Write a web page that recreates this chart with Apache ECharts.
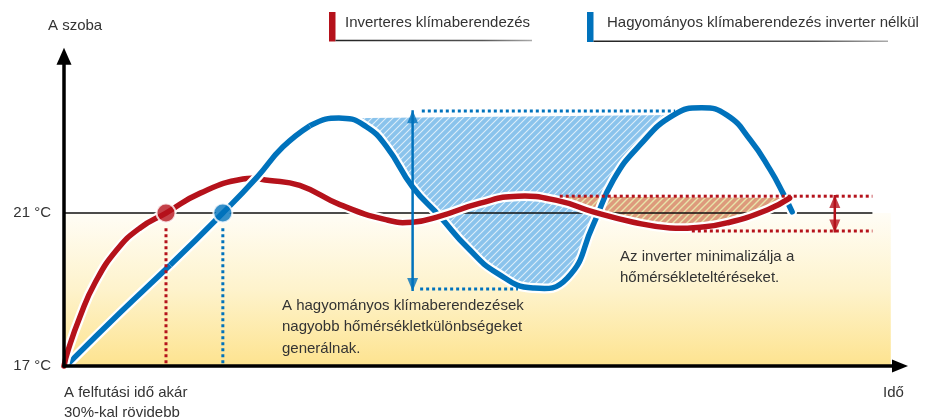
<!DOCTYPE html>
<html><head><meta charset="utf-8">
<script src="https://cdn.jsdelivr.net/npm/echarts@6/dist/echarts.min.js"></script>
<style>html,body{margin:0;padding:0;background:#fff}#c{width:927px;height:419px}</style>
</head><body><div id="c"></div>
<script>
// ---- data (x: time units 0..100, y: room temperature °C) ----
const inverterCurve = [
  [0, 17.0], [0.5, 17.42], [1.9, 18.28], [3.7, 19.17], [6.3, 20.03], [9.1, 20.61],
  [12.2, 21.0], [16.3, 21.52], [21.4, 21.89], [24.6, 21.85], [28.2, 21.72], [33.0, 21.22],
  [38.6, 20.82], [41.7, 20.76], [45.0, 20.92], [49.8, 21.26], [54.3, 21.44], [59.3, 21.31],
  [63.3, 21.03], [68.1, 20.76], [72.5, 20.61], [76.1, 20.63], [79.3, 20.74], [84.1, 21.08],
  [86.8, 21.39]
];
const conventionalCurve = [
  [0.7, 17.10], [6.7, 18.39], [12.7, 19.64], [19.0, 21.0], [23.1, 21.94], [26.2, 22.73],
  [29.4, 23.28], [33.3, 23.48], [36.2, 23.25], [38.6, 22.73], [41.7, 21.68], [45.0, 20.90],
  [48.2, 20.11], [51.8, 19.43], [56.1, 19.04], [60.2, 19.30], [63.3, 20.69], [65.7, 21.86],
  [68.9, 22.78], [72.9, 23.56], [76.3, 23.75], [79.3, 23.56], [82.1, 22.91], [84.5, 22.12],
  [86.0, 21.52], [87.1, 21.03]
];
const targetTemp = 21;
const startTemp = 17;
const yTicks = [17, 21];
const reachPoints = { inverter: [12.2, 21], conventional: [19.0, 21] };
const blueBand = { topLine: 23.67, bottomLine: 19.01, arrowX: 41.7, arrowTop: 23.69, arrowBottom: 18.96 };
const redBand = { topLine: 21.44, bottomLine: 20.53, arrowX: 92.2, arrowTop: 21.47, arrowBottom: 20.49 };
const blueTopLineX = [42.8, 73.1];
const blueBottomLineX = [42.6, 54.3];
const redTopLineX = [59.3, 96.7];
const redBottomLineX = [75.1, 96.7];
const targetLineEnd = 96.7;
const bgEnd = 98.9;
const legendNames = ['Inverteres klímaberendezés', 'Hagyományos klímaberendezés inverter nélkül'];

// subsets of the curves above
const blueHatchData = conventionalCurve.filter(p => p[0] >= 33.3 && p[0] <= 72.9);
const redHatchData = inverterCurve.filter(p => p[0] >= 54.3);
const blueOverRed = conventionalCurve.filter(p => p[0] >= 12.7 && p[0] <= 29.4); // blue crosses above red here

const RED = '#b5121b', BLUE = '#0072bc', FONT = '"Liberation Sans", Arial, sans-serif', TXT = '#333';

function hatch(bg, stripe, size, lw) {
  const c = document.createElement('canvas'); c.width = c.height = size;
  const g = c.getContext('2d');
  g.fillStyle = bg; g.fillRect(0, 0, size, size);
  g.strokeStyle = stripe; g.lineWidth = lw; g.beginPath();
  g.moveTo(-1, size + 1); g.lineTo(size + 1, -1);
  g.moveTo(-1, 1); g.lineTo(1, -1);
  g.moveTo(size - 1, size + 1); g.lineTo(size + 1, size - 1);
  g.stroke();
  return { image: c, repeat: 'repeat' };
}

const chart = echarts.init(document.getElementById('c'), null, { renderer: 'canvas' });

// smooth curve drawn through the axis scales (api.coord)
function curve(data, stroke, width, z, fill, cap) {
  return {
    type: 'custom', coordinateSystem: 'cartesian2d', silent: true, z: z, clip: false,
    data: [data[0]],
    renderItem: function (params, api) {
      return {
        type: 'polyline',
        shape: { points: data.map(p => api.coord(p)), smooth: 0.5 },
        style: fill ? { fill: fill, stroke: null, lineWidth: 0 }
                    : { stroke: stroke, lineWidth: width, fill: null, lineCap: cap || 'round', lineJoin: 'round' }
      };
    }
  };
}
function dotted(data, color, z) {
  return { type: 'line', data: data, symbol: 'none', silent: true, z: z || 7,
    lineStyle: { color: color, width: 3, type: [3, 3] } };
}
function arrowHeads(x, top, bottom, color) {
  return { type: 'scatter', silent: true, z: 7, symbol: 'triangle', symbolSize: [11, 13],
    itemStyle: { color: color },
    data: [
      { value: [x, top], symbolOffset: [0, 6.5] },
      { value: [x, bottom], symbolRotate: 180, symbolOffset: [0, -6.5] }
    ] };
}

const option = {
  animation: false,
  grid: { left: 64, right: 27, top: 56.2, bottom: 53, outerBoundsMode: 'none', containLabel: false },
  xAxis: {
    type: 'value', min: 0, max: 100, z: 10,
    axisLine: { show: true, onZero: false, lineStyle: { color: '#000', width: 3.5 }, symbol: ['none', 'triangle'], symbolSize: [13, 16] },
    axisTick: { show: false }, axisLabel: { show: false }, splitLine: { show: false }
  },
  yAxis: {
    type: 'value', min: 17, max: 25.1, interval: 4, z: 10,
    axisLine: { show: true, onZero: false, lineStyle: { color: '#000', width: 3.5 }, symbol: ['none', 'triangle'], symbolSize: [15, 17] },
    axisTick: { show: false }, splitLine: { show: false },
    axisLabel: { margin: 13, fontSize: 15, fontFamily: FONT, color: TXT,
      formatter: v => (yTicks.indexOf(v) >= 0 ? v + ' °C' : '') }
  },
  series: [
    { type: 'line', data: [[0, startTemp]], symbol: 'none', silent: true, z: 1, lineStyle: { width: 0 },
      markArea: { silent: true, z: 1,
        itemStyle: { color: { type: 'linear', x: 0, y: 0, x2: 0, y2: 1,
          colorStops: [{ offset: 0, color: '#fffdf6' }, { offset: 0.5, color: '#fef3cc' }, { offset: 1, color: '#fde38f' }] } },
        data: [[{ coord: [0, startTemp] }, { coord: [bgEnd, targetTemp] }]] } },
    curve(blueHatchData, null, 0, 2, hatch('#8ac3ec', 'rgba(255,255,255,0.7)', 7, 1.1)),
    curve(redHatchData, null, 0, 2, hatch('#dd9a7c', '#e8e4aa', 7, 1.4)),
    { type: 'line', data: [[0, targetTemp], [targetLineEnd, targetTemp]], symbol: 'none', silent: true, z: 3,
      lineStyle: { color: '#111', width: 1.3 } },
    curve(conventionalCurve, '#fff', 10, 4),
    curve(conventionalCurve, BLUE, 5.5, 4),
    curve(inverterCurve, '#fff', 10, 5),
    curve(inverterCurve, RED, 5.5, 5),
    curve(blueOverRed, '#fff', 10, 6, null, 'butt'),
    curve(blueOverRed, BLUE, 5.5, 6, null, 'butt'),
    dotted([[reachPoints.inverter[0], 20.6], [reachPoints.inverter[0], startTemp + 0.05]], RED),
    dotted([[reachPoints.conventional[0], 20.6], [reachPoints.conventional[0], startTemp + 0.05]], BLUE),
    dotted([[blueTopLineX[0], blueBand.topLine], [blueTopLineX[1], blueBand.topLine]], BLUE),
    dotted([[blueBottomLineX[0], blueBand.bottomLine], [blueBottomLineX[1], blueBand.bottomLine]], BLUE),
    dotted([[redTopLineX[0], redBand.topLine], [redTopLineX[1], redBand.topLine]], RED),
    dotted([[redBottomLineX[0], redBand.bottomLine], [redBottomLineX[1], redBand.bottomLine]], RED),
    { type: 'line', data: [[blueBand.arrowX, blueBand.arrowTop], [blueBand.arrowX, blueBand.arrowBottom]], symbol: 'none', silent: true, z: 7,
      lineStyle: { color: BLUE, width: 2.5 } },
    arrowHeads(blueBand.arrowX, blueBand.arrowTop, blueBand.arrowBottom, BLUE),
    { type: 'line', data: [[redBand.arrowX, redBand.arrowTop], [redBand.arrowX, redBand.arrowBottom]], symbol: 'none', silent: true, z: 7,
      lineStyle: { color: RED, width: 2.5 } },
    arrowHeads(redBand.arrowX, redBand.arrowTop, redBand.arrowBottom, RED),
    { type: 'scatter', silent: true, z: 8, symbol: 'circle', symbolSize: 19,
      itemStyle: { color: RED, borderColor: '#fff', borderWidth: 2 }, data: [reachPoints.inverter] },
    { type: 'scatter', silent: true, z: 8, symbol: 'circle', symbolSize: 19,
      itemStyle: { color: BLUE, borderColor: '#fff', borderWidth: 2 }, data: [reachPoints.conventional] }
  ],
  graphic: [
    { type: 'text', x: 48, y: 26, style: { text: 'A szoba', fill: TXT, font: '15px ' + FONT, verticalAlign: 'middle' } },
    { type: 'rect', shape: { x: 329, y: 12, width: 6.5, height: 29.5 }, style: { fill: RED } },
    { type: 'rect', shape: { x: 335.5, y: 39.8, width: 196.5, height: 1.5 },
      style: { fill: new echarts.graphic.LinearGradient(0, 0, 1, 0, [{ offset: 0, color: '#222' }, { offset: 0.75, color: '#555' }, { offset: 1, color: '#aaa' }]) } },
    { type: 'text', x: 345, y: 23, style: { text: legendNames[0], fill: TXT, font: '15px ' + FONT, verticalAlign: 'middle' } },
    { type: 'rect', shape: { x: 587, y: 12, width: 6.5, height: 30 }, style: { fill: BLUE } },
    { type: 'rect', shape: { x: 593.5, y: 40.5, width: 294.5, height: 1.5 },
      style: { fill: new echarts.graphic.LinearGradient(0, 0, 1, 0, [{ offset: 0, color: '#222' }, { offset: 0.75, color: '#555' }, { offset: 1, color: '#aaa' }]) } },
    { type: 'text', x: 607, y: 23, style: { text: legendNames[1], fill: TXT, font: '15px ' + FONT, verticalAlign: 'middle' } },
    { type: 'text', x: 64, y: 383, style: { text: 'A felfutási idő akár\n30%-kal rövidebb', fill: TXT, font: '15px ' + FONT, lineHeight: 20, verticalAlign: 'top' } },
    { type: 'text', x: 883, y: 393, style: { text: 'Idő', fill: TXT, font: '15px ' + FONT, verticalAlign: 'middle' } },
    { type: 'text', x: 282, y: 295, z: 20, style: { text: 'A hagyományos klímaberendezések\nnagyobb hőmérsékletkülönbségeket\ngenerálnak.', fill: TXT, font: '15px ' + FONT, lineHeight: 21.5, verticalAlign: 'top' } },
    { type: 'text', x: 620, y: 246.5, z: 20, style: { text: 'Az inverter minimalizálja a\nhőmérsékleteltéréseket.', fill: TXT, font: '15px ' + FONT, lineHeight: 21, verticalAlign: 'top' } }
  ]
};
chart.setOption(option);
</script></body></html>
